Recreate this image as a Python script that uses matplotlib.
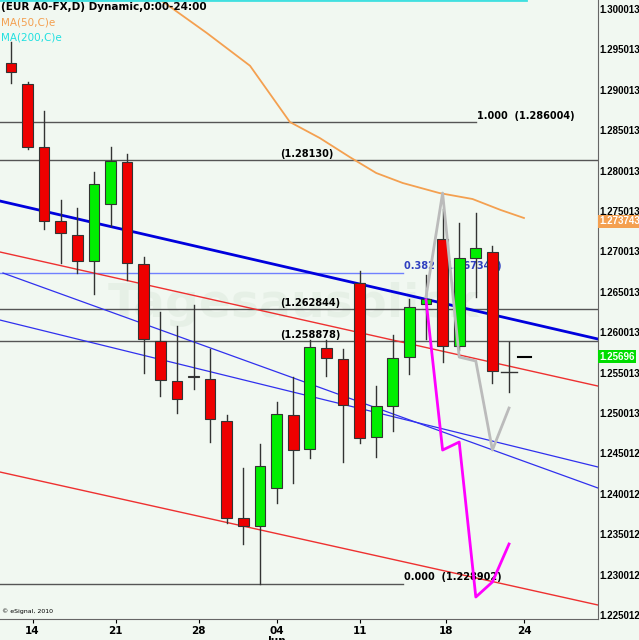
import matplotlib
matplotlib.use("Agg")
import matplotlib.pyplot as plt
import numpy as np

# OHLC per trading day (index 0..30)
opens  = [1.29333,1.29073,1.28293,1.27378,1.27204,1.26882,1.27588,1.28108,1.26846,1.25892,
          1.25397,1.25446,1.25422,1.24902,1.23701,1.23603,1.24073,1.24976,1.24557,1.25806,
          1.25669,1.26610,1.24705,1.25087,1.25694,1.26350,1.27155,1.25830,1.26920,1.26994,1.25509]
closes = [1.29222,1.28293,1.27378,1.27229,1.26882,1.27836,1.28120,1.26858,1.25917,1.25409,
          1.25174,1.25459,1.24928,1.23701,1.23603,1.24345,1.24989,1.24544,1.25818,1.25682,
          1.25100,1.24692,1.25087,1.25681,1.26318,1.26412,1.25830,1.26920,1.27043,1.25521,1.25509]
highs  = [1.29593,1.29097,1.28739,1.27637,1.27538,1.27984,1.28293,1.28207,1.26932,1.26252,
          1.26079,1.26338,1.25793,1.24976,1.24321,1.24618,1.25137,1.25446,1.25905,1.25905,
          1.25793,1.26759,1.25335,1.25973,1.26412,1.26709,1.27526,1.27353,1.27476,1.27068,1.25880]
lows   = [1.29085,1.28268,1.27279,1.26858,1.26734,1.26474,1.27316,1.26648,1.25496,1.25211,
          1.25001,1.25298,1.24642,1.23640,1.23379,1.22890,1.23887,1.24136,1.24445,1.25458,
          1.24395,1.24630,1.24457,1.24779,1.25484,1.25917,1.25632,1.25781,1.26437,1.25372,1.25261]

ma50_idx = [9,11.8,14.4,16.8,18.6,20.4,22,23.6,25.8,27.8,29.5,30.9]
ma50_val = [1.30115,1.29704,1.29299,1.28603,1.28405,1.28170,1.27972,1.27848,1.27724,1.27650,1.27514,1.27415]

gray_idx = [25,26,27,28,29,30]
gray_val = [1.26437,1.27724,1.25694,1.25645,1.24543,1.25063]
mag_idx = [25,26,27,28,29,30]
mag_val = [1.26400,1.24543,1.24642,1.22724,1.22910,1.23380]

XL, XR = -0.66, 35.36
YB, YT = 1.22452, 1.30113
ticks_y = [1.300013,1.295013,1.290013,1.285013,1.280013,1.275013,1.270013,1.265013,
           1.260013,1.255013,1.250013,1.245012,1.240012,1.235012,1.230012,1.225012]
xtick_pos = [1.3,6.3,11.3,16,21,26.2,30.9]
xtick_lab = ["14","21","28","04","11","18","24"]

fig = plt.figure(figsize=(6.39,6.40), dpi=100)
fig.patch.set_facecolor("#f1f8f1")
ax = fig.add_axes([0, 21/640, 598/639, 619/640])
ax.set_facecolor("#f1f8f1")
ax.set_xlim(XL, XR); ax.set_ylim(YB, YT)

NARROW = ["Liberation Sans Narrow", "Liberation Sans", "DejaVu Sans"]

# watermark
ax.text(17, 1.2635, "Tagesausblick", fontsize=34, fontweight="bold", color="#dde9dd", alpha=0.5,
        ha="center", va="center", zorder=0)

# horizontal levels
ax.axhline(1.28130, color="#555555", lw=1)
ax.axhline(1.262844, color="#555555", lw=1)
ax.axhline(1.258878, color="#555555", lw=1)
ax.plot([XL, 28], [1.286004]*2, color="#555555", lw=1)
ax.plot([XL, 23.6], [1.228902]*2, color="#555555", lw=1)
ax.plot([XL, 23.6], [1.26734]*2, color="#7080ff", lw=1)
ax.text(16.2, 1.28130+0.0002, "(1.28130)", fontsize=7, fontweight="bold", va="bottom")
ax.text(16.2, 1.262844+0.0002, "(1.262844)", fontsize=7, fontweight="bold", va="bottom")
ax.text(16.2, 1.258878+0.0002, "(1.258878)", fontsize=7, fontweight="bold", va="bottom")
ax.text(28.1, 1.286004+0.0002, "1.000  (1.286004)", fontsize=7, fontweight="bold", va="bottom")
ax.text(23.7, 1.228902+0.0002, "0.000  (1.228902)", fontsize=7, fontweight="bold", va="bottom")
ax.text(23.7, 1.26734+0.0002, "0.382  (1.267346)", fontsize=7, fontweight="bold", va="bottom", color="#3040c0")

# trend channels
ax.plot([XL, XR], [1.27625, 1.25917], color="#0000dd", lw=2)
ax.plot([XL, XR], [1.26994, 1.25335], color="#ee3030", lw=1)
ax.plot([XL, XR], [1.24271, 1.22625], color="#ee3030", lw=1)
ax.plot([-0.48, XR], [1.26734, 1.24073], color="#3030ee", lw=0.9)
ax.plot([XL, XR], [1.26152, 1.24333], color="#3030ee", lw=0.9)

# MAs
ax.plot(ma50_idx, ma50_val, color="#f4a050", lw=1.3)
ax.plot([XL, 31], [1.30110]*2, color="#40e0e0", lw=2)

# candles
for i,(o,c,h,l) in enumerate(zip(opens,closes,highs,lows)):
    ax.plot([i,i],[l,h], color="#333333", lw=1, zorder=3)
    if abs(o-c) < 1e-5:
        ax.plot([i-0.5,i+0.5],[o,o], color="#333333", lw=1, zorder=4)
        continue
    col = "#00ee00" if c > o else "#ee0000"
    ax.add_patch(plt.Rectangle((i-0.32, min(o,c)), 0.64, abs(c-o), facecolor=col,
                               edgecolor="#333333", lw=0.8, zorder=4))
ax.plot([30.55,31.3],[1.25696]*2, color="black", lw=1.5)

# projections
ax.plot(gray_idx, gray_val, color="#bbbbbb", lw=2, zorder=5)
ax.plot(mag_idx, mag_val, color="#ff00ff", lw=2, zorder=5)

# axes styling
for s in ["left","top"]:
    ax.spines[s].set_visible(False)
ax.spines["right"].set_color("#666666"); ax.spines["bottom"].set_color("#666666")
ax.yaxis.tick_right()
ax.set_yticks(ticks_y)
ax.set_yticklabels([f"{v:.6f}" for v in ticks_y], fontsize=7, fontweight="bold", family=NARROW)
ax.tick_params(axis="y", length=0, pad=1)
ax.set_xticks(xtick_pos)
ax.set_xticklabels(xtick_lab, fontsize=7.5, fontweight="bold")
ax.tick_params(axis="x", length=3, pad=2)
ax.text(16, YB-0.0021, "Jun", fontsize=7.5, fontweight="bold", ha="center", va="top", clip_on=False)

# price boxes
ax.text(XR+0.08, 1.273743, "1.273743", fontsize=7, fontweight="bold", color="white", va="center",
        family=NARROW, bbox=dict(boxstyle="square,pad=0.15", fc="#f4a050", ec="none"), clip_on=False)
ax.text(XR+0.08, 1.25696, "1.25696", fontsize=7, fontweight="bold", color="white", va="center",
        family=NARROW, bbox=dict(boxstyle="square,pad=0.15", fc="#00dd00", ec="none"), clip_on=False)

# legend texts
ax.text(0.002, 0.997, "(EUR A0-FX,D) Dynamic,0:00-24:00", transform=ax.transAxes, fontsize=7.5,
        fontweight="bold", va="top")
ax.text(0.002, 0.972, "MA(50,C)e", transform=ax.transAxes, fontsize=7.5, color="#f4a050", va="top")
ax.text(0.002, 0.947, "MA(200,C)e", transform=ax.transAxes, fontsize=7.5, color="#20e0e0", va="top")
ax.text(0.003, 0.008, "© eSignal, 2010", transform=ax.transAxes, fontsize=4.5, va="bottom")

fig.savefig("out.png", dpi=100, facecolor=fig.get_facecolor())
